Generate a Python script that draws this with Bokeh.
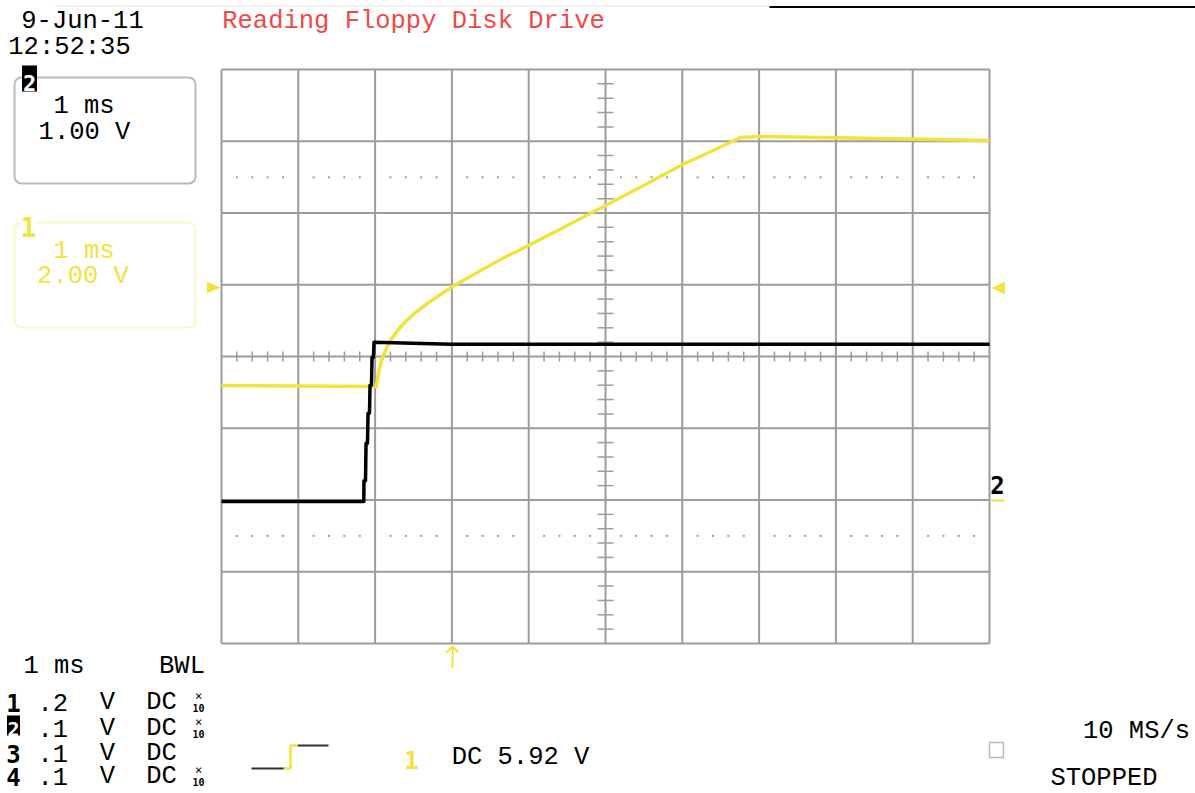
from bokeh.plotting import figure
from bokeh.models import Range1d, BoxAnnotation
from bokeh.core.properties import value
from bokeh.embed import file_html
from bokeh.resources import INLINE

# ---------------- data ----------------
# Channel 1 (yellow), 2.00 V/div, volts relative to screen centre
ch1_t_ms = [-3.0, -0.982, -0.956, -0.917, -0.865, -0.799, -0.708, -0.604, -0.474, -0.305,
            -0.148, 0.008, 0.307, 0.633, 0.997, 1.479, 2.0, 2.521, 3.003, 3.432, 3.758,
            4.018, 5.19, 7.0]
ch1_volts = [-0.81, -0.836, -0.446, -0.111, 0.167, 0.446, 0.725, 0.976, 1.226, 1.505,
             1.728, 1.951, 2.314, 2.704, 3.094, 3.624, 4.209, 4.794, 5.352, 5.770, 6.105,
             6.13, 6.09, 6.02]
# Channel 2 (black), 1.00 V/div, volts above its ground marker
ch2_t_ms = [-3.0, -1.147, -1.145, -1.125, -1.118, -1.099, -1.092, -1.073, -1.066,
            -1.047, -1.040, -1.021, -1.014, 0.0, 7.0]
ch2_volts = [-0.02, -0.02, 0.27, 0.27, 0.79, 0.79, 1.21, 1.21, 1.60,
             1.60, 1.99, 1.99, 2.20, 2.17, 2.17]

time_per_div_ms = 1.0
ch1_volts_per_div = 2.0
ch2_volts_per_div = 1.0
ch2_ground_div = -2.0
t_left_ms = -3.0
n_hdiv, n_vdiv = 10, 8

title_text = "Reading Floppy Disk Drive"
date_text = "9-Jun-11"
time_text = "12:52:35"
trigger_text = "DC 5.92 V"
rate_text = "10 MS/s"
state_text = "STOPPED"
chan_rows = [("1", ".2", True), ("2", ".1", True), ("3", ".1", False), ("4", ".1", True)]

# ---------------- layout (reference pixels) ----------------
GRID_L, GRID_T = 221.0, 69.0
DIV_W, DIV_H = 76.8, 71.75
CENTER_Y = GRID_T + 4 * DIV_H


def X(px):
    return t_left_ms + (px - GRID_L) / DIV_W * time_per_div_ms


def Y(py):
    return (CENTER_Y - py) / DIV_H


W, H = 1195, 793
XS, XE = X(0), X(W)
YS, YE = Y(H), Y(0)

YELLOW = "#f2e23c"
GRID = "#9c9c9c"
RED = "#f04848"
FONT = "Liberation Mono"
BOLD = "DejaVu Sans Mono"
FS = 25.5

p = figure(width=W, height=H, x_range=Range1d(XS, XE), y_range=Range1d(YS, YE),
           output_backend="svg", toolbar_location=None, x_axis_type=None,
           y_axis_type=None, min_border=0, outline_line_color=None,
           background_fill_color="white", border_fill_color="white")
p.extra_y_ranges = {
    "ch1": Range1d(YS * ch1_volts_per_div, YE * ch1_volts_per_div),
    "ch2": Range1d((YS - ch2_ground_div) * ch2_volts_per_div,
                   (YE - ch2_ground_div) * ch2_volts_per_div),
}

t0, t1 = t_left_ms, t_left_ms + n_hdiv * time_per_div_ms
v0, v1 = -n_vdiv / 2, n_vdiv / 2

# grid
vx = [t_left_ms + i * time_per_div_ms for i in range(n_hdiv + 1)]
p.segment(x0=vx, y0=[v0] * len(vx), x1=vx, y1=[v1] * len(vx), line_color=GRID, line_width=2)
hy = [v0 + i for i in range(n_vdiv + 1)]
p.segment(x0=[t0] * len(hy), y0=hy, x1=[t1] * len(hy), y1=hy, line_color=GRID, line_width=2)

# minor ticks on centre lines
tx = [t_left_ms + 0.2 * k for k in range(1, n_hdiv * 5) if k % 5]
dy = 5 / DIV_H
p.segment(x0=tx, y0=[-dy] * len(tx), x1=tx, y1=[dy] * len(tx), line_color=GRID, line_width=1.5)
ty = [v0 + 0.2 * k for k in range(1, n_vdiv * 5) if k % 5]
tc = t_left_ms + 5 * time_per_div_ms
dx = 8 / DIV_W
p.segment(x0=[tc - dx] * len(ty), y0=ty, x1=[tc + dx] * len(ty), y1=ty, line_color=GRID, line_width=1.5)

# dotted rows at +-2.5 div
for yy in (2.5, -2.5):
    p.scatter(x=tx, y=[yy] * len(tx), marker="square", size=2, fill_color=GRID, line_color=None)

# waveforms
p.line(ch1_t_ms, ch1_volts, y_range_name="ch1", line_color=YELLOW, line_width=3.5, line_join="round")
p.line(ch2_t_ms, ch2_volts, y_range_name="ch2", line_color="black", line_width=3.5, line_join="round")

# markers
p.patch([X(207), X(207), X(219)], [Y(282), Y(292), Y(287)], fill_color=YELLOW, line_color=YELLOW)
p.patch([X(1004), X(1004), X(992)], [Y(282), Y(293), Y(287.5)], fill_color=YELLOW, line_color=YELLOW)
p.segment(x0=[X(990)], y0=[Y(500)], x1=[X(1004)], y1=[Y(500)], line_color=YELLOW, line_width=2)
# trigger arrow
p.multi_line(xs=[[X(452), X(452)], [X(446), X(452), X(458)]],
             ys=[[Y(668), Y(646)], [Y(652), Y(646), Y(652)]], line_color=YELLOW, line_width=2)

# top rules
p.segment(x0=[X(55)], y0=[Y(5.5)], x1=[X(769)], y1=[Y(5.5)], line_color="#e4e4e4", line_width=1)
p.segment(x0=[X(769)], y0=[Y(6.5)], x1=[X(1195)], y1=[Y(6.5)], line_color="black", line_width=2)


def txt(px, py, s, color="black", size=FS, align="center", font=FONT, style="normal"):
    yb = py - 0.24 * size  # compensate renderer baseline offset
    p.text(x=[X(px)], y=[Y(yb)], text=[s], text_font=value(font), text_font_size=f"{size}px",
           text_color=color, text_align=align, text_baseline="alphabetic", text_font_style=style)


txt(82, 27, date_text)
txt(69, 53, time_text)
txt(413, 27, title_text, color=RED)

# channel 2 box
p.add_layout(BoxAnnotation(left=X(14), right=X(195), top=Y(77), bottom=Y(183), fill_color=None,
                           line_color="#1a1a1a", line_width=2, border_radius=7, level="underlay"))
p.quad(left=[X(21.5)], right=[X(36.5)], top=[Y(65)], bottom=[Y(91)], fill_color="black", line_color=None)
txt(29, 88, "2", color="white", size=22, font=BOLD, style="bold")
txt(83.5, 112, "1 ms")
txt(84, 138, "1.00 V")

# channel 1 box
p.add_layout(BoxAnnotation(left=X(14), right=X(195), top=Y(222), bottom=Y(327), fill_color=None,
                           line_color=YELLOW, line_width=2, border_radius=7, level="underlay"))
p.quad(left=[X(19)], right=[X(37)], top=[Y(217)], bottom=[Y(227)], fill_color="white", line_color=None)
txt(28, 233, "1", color=YELLOW, size=26, font=BOLD, style="bold")
txt(83.5, 257, "1 ms", color=YELLOW)
txt(82.5, 282, "2.00 V", color=YELLOW)

# channel 2 marker on right
txt(997, 490, "2", size=24, font=BOLD, style="bold")

# bottom-left settings table
txt(53.5, 672, "1 ms")
txt(181.5, 672, "BWL")
row_base = [708, 734, 759, 782]
for (num, vdiv, probe), yb in zip(chan_rows, row_base):
    if num == "2":
        p.quad(left=[X(6.5)], right=[X(19.5)], top=[Y(yb - 19)], bottom=[Y(yb + 1)], fill_color="black", line_color=None)
        txt(13, yb - 1, num, color="white", size=20, font=BOLD, style="bold")
    else:
        txt(13, yb, num, size=24, font=BOLD, style="bold")
    txt(37, yb, vdiv, align="left")
    txt(107, yb, "V")
    txt(161, yb, "DC")
    if probe:
        txt(198, yb - 10, "\u00d7", size=12, font=BOLD)
        txt(198, yb + 2, "10", size=10, font=BOLD, style="bold")

# trigger info
p.multi_line(xs=[[X(251), X(284)], [X(297), X(328)]], ys=[[Y(768), Y(768)], [Y(745), Y(745)]],
             line_color="#333333", line_width=2)
p.line([X(283), X(290), X(290), X(297)], [Y(768), Y(768), Y(745), Y(745)], line_color=YELLOW, line_width=2.5)
txt(411, 765, "1", color=YELLOW, size=24, font=BOLD, style="bold")
txt(520, 763, trigger_text)

# acquisition info
txt(1136, 737, rate_text)
p.quad(left=[X(989)], right=[X(1003)], top=[Y(742)], bottom=[Y(757)], fill_color=None,
       line_color="#b8b8b8", line_width=1.5)
txt(1103.5, 784, state_text)

open("out.html", "w").write(file_html(p, INLINE))
